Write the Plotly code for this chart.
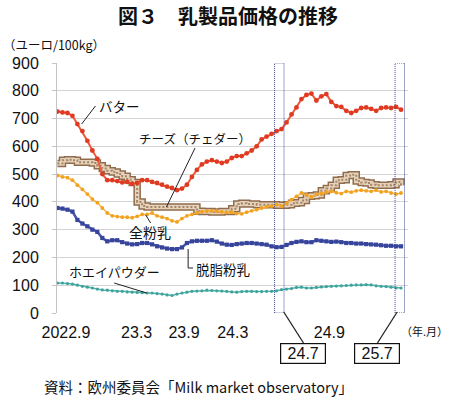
import plotly.graph_objects as go

# Semi-monthly observations starting September 2022 (x in months since 2022.9)
months = [k * 0.5 for k in range(70)]

butter = [725, 722, 720, 710, 680, 655, 620, 585, 555, 500,
          478, 478, 475, 470, 472, 465, 468, 478, 478, 472,
          468, 462, 455, 450, 442, 448, 462, 490, 515, 535,
          545, 550, 545, 540, 545, 558, 565, 565, 575, 585,
          600, 625, 635, 645, 655, 662, 686, 715, 740, 770,
          785, 790, 765, 780, 788, 760, 745, 742, 728, 720,
          728, 738, 740, 735, 728, 738, 740, 738, 742, 732]

cheese = [538, 550, 552, 550, 543, 543, 543, 540, 530, 520,
          512, 508, 500, 492, 480, 470, 400, 385, 382, 382,
          382, 382, 382, 382, 382, 382, 382, 382, 366, 365,
          365, 364, 364, 365, 365, 375, 392, 395, 392, 392,
          390, 390, 390, 390, 388, 388, 390, 395, 397, 405,
          420, 422, 425, 440, 448, 460, 478, 480, 495, 498,
          475, 470, 468, 462, 460, 460, 460, 462, 472, 460]

wmp = [495, 490, 487, 478, 460, 445, 428, 410, 397, 378,
       360, 350, 347, 345, 345, 343, 348, 355, 355, 360,
       350, 345, 340, 332, 328, 340, 350, 355, 360, 365,
       367, 368, 367, 364, 362, 363, 358, 357, 363, 368,
       372, 378, 382, 385, 390, 385, 395, 408, 420, 432,
       425, 418, 428, 430, 435, 438, 433, 430, 438, 435,
       440, 442, 440, 438, 442, 436, 438, 432, 428, 432]

smp = [378, 376, 372, 365, 335, 322, 312, 300, 292, 270,
       258, 262, 262, 255, 250, 247, 248, 252, 252, 247,
       240, 236, 232, 230, 230, 236, 252, 258, 260, 260,
       260, 262, 257, 250, 246, 245, 248, 250, 252, 252,
       250, 248, 246, 240, 237, 238, 245, 252, 256, 258,
       255, 255, 262, 260, 258, 256, 257, 255, 252, 252,
       250, 250, 248, 247, 246, 244, 242, 242, 240, 240]

whey = [108, 108, 106, 104, 100, 96, 93, 90, 86, 83,
        82, 80, 78, 78, 76, 75, 74, 73, 72, 72,
        70, 68, 65, 63, 68, 72, 75, 78, 79, 80,
        82, 81, 80, 79, 78, 76, 75, 77, 78, 78,
        77, 77, 78, 78, 80, 84, 86, 88, 92, 93,
        90, 90, 92, 94, 95, 96, 97, 98, 99, 100,
        101, 101, 102, 101, 98, 96, 95, 93, 90, 90]

tick_pos = [0.85, 7.95, 12.7, 17.6, 27.3]
tick_text = ["2022.9", "23.3", "23.9", "24.3", "24.9"]
y_ticks = [0, 100, 200, 300, 400, 500, 600, 700, 800, 900]

highlight_months = [21.8, 33.9]
highlight_labels = ["24.7", "25.7"]

JP = "Noto Sans CJK JP"
LAT = "Liberation Sans"

W, H = 450, 397
L, R, T, B = 52, 408, 63, 313


def px(x):
    return (x - L) / (R - L)


def py(y):
    return (B - y) / (B - T)


fig = go.Figure()

# cheese band (outline, fill, hatch)
fig.add_trace(go.Scatter(x=months, y=cheese, mode="lines", line_shape="hv",
                         line=dict(color="#8f6c4e", width=7.5), hoverinfo="skip"))
fig.add_trace(go.Scatter(x=months, y=cheese, mode="lines", line_shape="hv",
                         line=dict(color="#e6d3bb", width=4.5), hoverinfo="skip"))
fig.add_trace(go.Scatter(x=months, y=cheese, mode="lines", line_shape="hv",
                         line=dict(color="#a78566", width=2, dash="2px,2px"), hoverinfo="skip"))

fig.add_trace(go.Scatter(x=months, y=whey, mode="lines+markers",
                         line=dict(color="#4fb3ad", width=1.5),
                         marker=dict(color="#3fa39c", size=3.2)))
fig.add_trace(go.Scatter(x=months, y=smp, mode="lines+markers",
                         line=dict(color="#4a55a8", width=2.5),
                         marker=dict(color="#36449c", size=4.2, symbol="square")))
fig.add_trace(go.Scatter(x=months, y=wmp, mode="lines+markers",
                         line=dict(color="#f6b548", width=1.5),
                         marker=dict(color="#f2a21e", size=3.8)))
fig.add_trace(go.Scatter(x=months, y=butter, mode="lines+markers",
                         line=dict(color="#ec5a3c", width=2),
                         marker=dict(color="#e03a22", size=4.8)))

shapes = []
for m in highlight_months:
    shapes.append(dict(type="rect", xref="x", yref="y", x0=m, x1=m + 0.95, y0=0, y1=900,
                       line=dict(color="#3d4a8f", width=1, dash="1px,1px"),
                       fillcolor="rgba(0,0,0,0)"))


def seg(x0, y0, x1, y1, w=1):
    shapes.append(dict(type="line", xref="paper", yref="paper", x0=px(x0), y0=py(y0),
                       x1=px(x1), y1=py(y1), line=dict(color="#222", width=w)))


seg(91, 106, 77, 124)      # butter
seg(192, 148, 163, 207)    # cheese
seg(147, 223, 142, 215)    # wmp
seg(185, 249, 185, 268)    # smp
seg(185, 268, 190, 268)
seg(110, 283, 143, 293)    # whey
seg(302, 343, 282, 312, 1.3)  # 24.7 callout
seg(377, 343, 397, 312, 1.3)  # 25.7 callout

ann = []


def text(x, y, s, size=13, fam=JP, **kw):
    ann.append(dict(x=px(x), y=py(y), xref="paper", yref="paper", text=s, showarrow=False,
                    font=dict(family=fam, size=size, color="#111"), xanchor="center",
                    yanchor="middle", **kw))


text(225, 15, "<b>図３　乳製品価格の推移</b>", size=20, borderpad=0)
text(49, 45, "（ユーロ/100kg）", size=12.5)
text(115, 106, "バター", size=13.5)
text(192, 138, "チーズ（チェダー）", size=12.5)
text(146, 232, "全粉乳", size=14)
text(221, 269, "脱脂粉乳", size=13.5)
text(110, 271, "ホエイパウダー", size=13)
text(425, 331, "（年.月）", size=11)
text(196, 386, "資料：欧州委員会「Milk market observatory」", size=14.5)
text(301.5, 353.5, highlight_labels[0], size=16, fam=LAT, bordercolor="#111", borderwidth=1.2,
     width=42, height=17, borderpad=1)
text(376.5, 353.5, highlight_labels[1], size=16, fam=LAT, bordercolor="#111", borderwidth=1.2,
     width=42, height=17, borderpad=1)

fig.update_layout(
    width=W, height=H, margin=dict(l=L, r=W - R, t=T, b=H - B, pad=0),
    paper_bgcolor="white", plot_bgcolor="white", showlegend=False,
    shapes=shapes, annotations=ann,
    xaxis=dict(range=[-0.05, 35.2], tickvals=tick_pos, ticktext=tick_text, showgrid=False,
               zeroline=False, showline=False, ticks="", ticklabelstandoff=8,
               tickfont=dict(family=LAT, size=16, color="#111")),
    yaxis=dict(range=[0, 900], tickvals=y_ticks, showgrid=True, gridcolor="#d4d4d4",
               gridwidth=1, zeroline=False, showline=True, linecolor="#c4c4c4",
               ticks="outside", ticklen=4, tickcolor="#c4c4c4", ticklabelstandoff=10,
               tickfont=dict(family=LAT, size=16, color="#111")),
)

fig.write_html("out.html", config={"displayModeBar": False},
               post_script="document.body.style.margin='0';document.body.style.overflow='hidden';")
